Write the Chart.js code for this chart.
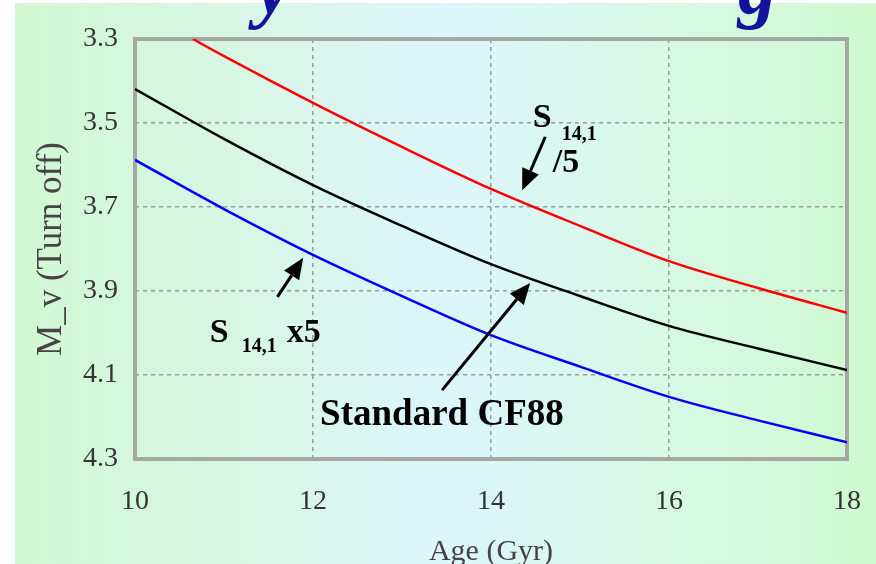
<!DOCTYPE html>
<html>
<head>
<meta charset="utf-8">
<script src="https://cdn.jsdelivr.net/npm/chart.js@4.4.0/dist/chart.umd.min.js"></script>
<style>
  html, body { margin: 0; padding: 0; background: #fff; }
  #bg { position: absolute; left: 15px; top: 3px; width: 861px; height: 561px;
        background: linear-gradient(to right, #d2f8d2 0%, #d8f6e4 25%, #dcf6fb 50%, #d8f8e6 75%, #cff9cf 100%); }
  #box { position: absolute; left: 0; top: 0; width: 876px; height: 564px; }
</style>
</head>
<body>
<div id="bg"></div>
<div id="box"><canvas id="chart1" width="876" height="564"></canvas></div>
<script>
// age axis (Gyr) and turn-off magnitudes
const ages = [10, 11, 12, 13, 14, 15, 16, 17, 18];
const mv_standard = [3.419, 3.538, 3.648, 3.745, 3.836, 3.912, 3.983, 4.037, 4.088];
const mv_s141_x5 = [3.588, 3.705, 3.814, 3.912, 4.005, 4.080, 4.152, 4.208, 4.260];
const ages_div5 = [10.65, 11, 12, 13, 14, 15, 16, 17, 18];
const mv_s141_div5 = [3.300, 3.341, 3.452, 3.557, 3.657, 3.745, 3.829, 3.893, 3.952];

const x_ticks = [10, 12, 14, 16, 18];
const y_ticks = [3.3, 3.5, 3.7, 3.9, 4.1, 4.3];

// labels on the plot, anchored in data units (age, M_v)
const note_div5 = { x: 14.47, y: 3.51, tail: [14.61, 3.533], tip: [14.35, 3.66] };
const note_x5 = { x: 10.84, y: 4.021, tail: [11.60, 3.914], tip: [11.89, 3.821] };
const note_std = { x: 12.08, y: 4.219, tail: [13.45, 4.136], tip: [14.44, 3.881] };

const toXY = (xs, ys) => xs.map((x, i) => ({ x: x, y: ys[i] }));

const SERIF = '"Liberation Serif", "DejaVu Serif", serif';

function arrow(ctx, x1, y1, x2, y2) {
  const a = Math.atan2(y2 - y1, x2 - x1);
  const L = 21, W = 9;
  const c = Math.cos(a), s = Math.sin(a);
  ctx.beginPath();
  ctx.moveTo(x1, y1);
  ctx.lineTo(x2 - L * c, y2 - L * s);
  ctx.lineWidth = 3;
  ctx.stroke();
  ctx.beginPath();
  ctx.moveTo(x2, y2);
  ctx.lineTo(x2 - L * c + W * s, y2 - L * s - W * c);
  ctx.lineTo(x2 - L * c - W * s, y2 - L * s + W * c);
  ctx.closePath();
  ctx.fill();
}

const notesPlugin = {
  id: 'notes',
  beforeDatasetsDraw(chart) {
    const { ctx, chartArea: a } = chart;
    ctx.save();
    ctx.strokeStyle = '#a3a8a3';
    ctx.lineWidth = 4;
    ctx.strokeRect(a.left, a.top, a.right - a.left, a.bottom - a.top);
    ctx.restore();
  },
  afterDatasetsDraw(chart) {
    const { ctx } = chart;
    const xs = chart.scales.x, ys = chart.scales.y;
    const px = v => xs.getPixelForValue(v), py = v => ys.getPixelForValue(v);
    ctx.save();
    ctx.fillStyle = '#000';
    ctx.strokeStyle = '#000';
    ctx.textBaseline = 'alphabetic';
    ctx.textAlign = 'left';

    // S 14,1 /5
    let x = px(note_div5.x), y = py(note_div5.y);
    ctx.font = 'bold 34px ' + SERIF;
    ctx.fillText('S', x, y);
    ctx.fillText('/5', x + 20, y + 45);
    ctx.font = 'bold 20px ' + SERIF;
    ctx.fillText('14,1', x + 29, y + 13);
    arrow(ctx, px(note_div5.tail[0]), py(note_div5.tail[1]), px(note_div5.tip[0]), py(note_div5.tip[1]));

    // S 14,1 x5
    x = px(note_x5.x); y = py(note_x5.y);
    ctx.font = 'bold 34px ' + SERIF;
    ctx.fillText('S', x, y);
    ctx.fillText('x5', x + 77, y);
    ctx.font = 'bold 20px ' + SERIF;
    ctx.fillText('14,1', x + 32, y + 10);
    arrow(ctx, px(note_x5.tail[0]), py(note_x5.tail[1]), px(note_x5.tip[0]), py(note_x5.tip[1]));

    // Standard CF88
    x = px(note_std.x); y = py(note_std.y);
    ctx.font = 'bold 37px ' + SERIF;
    ctx.fillText('Standard CF88', x, y);
    arrow(ctx, px(note_std.tail[0]), py(note_std.tail[1]), px(note_std.tip[0]), py(note_std.tip[1]));
    ctx.restore();
  },
  afterDraw(chart) {
    // slide heading, only its descenders are inside the frame
    const ctx = chart.ctx;
    ctx.save();
    ctx.fillStyle = '#12129c';
    ctx.font = 'italic bold 78px ' + SERIF;
    ctx.textBaseline = 'alphabetic';
    ctx.fillText('y', 256, 13);
    ctx.fillText('g', 738, 13);
    ctx.restore();
  }
};

const gridColor = (lo, hi) => c => (c.tick && (c.tick.value === lo || c.tick.value === hi)) ? 'rgba(0,0,0,0)' : '#9a9a9a';

const ctx = document.getElementById('chart1').getContext('2d');
const myChart = new Chart(ctx, {
  type: 'line',
  data: {
    datasets: [
      { label: 'S14,1 /5', data: toXY(ages_div5, mv_s141_div5), borderColor: '#ff0000' },
      { label: 'Standard CF88', data: toXY(ages, mv_standard), borderColor: '#000000' },
      { label: 'S14,1 x5', data: toXY(ages, mv_s141_x5), borderColor: '#0000ff' }
    ]
  },
  options: {
    responsive: false,
    animation: false,
    parsing: false,
    elements: {
      line: { borderWidth: 2.5, cubicInterpolationMode: 'monotone' },
      point: { radius: 0 }
    },
    layout: { padding: { left: 0, top: 39, right: 29, bottom: 0 } },
    plugins: { legend: { display: false }, tooltip: { enabled: false } },
    scales: {
      x: {
        type: 'linear',
        min: 10, max: 18,
        afterBuildTicks: s => { s.ticks = x_ticks.map(v => ({ value: v })); },
        afterFit: s => { s.height = 105; s.paddingLeft = 0; s.paddingRight = 0; },
        border: { display: false, dash: [4, 4] },
        grid: { drawTicks: false, color: gridColor(10, 18), lineWidth: 1.5 },
        ticks: { padding: 26, color: '#333', font: { family: SERIF, size: 28 } },
        title: { display: true, text: 'Age (Gyr)', color: '#444', font: { family: SERIF, size: 30 }, padding: { top: 0, bottom: -6 } }
      },
      y: {
        type: 'linear',
        reverse: true,
        min: 3.3, max: 4.3,
        afterBuildTicks: s => { s.ticks = y_ticks.map(v => ({ value: v })); },
        afterFit: s => { s.width = 135; s.paddingTop = 0; s.paddingBottom = 0; },
        border: { display: false, dash: [4, 4] },
        grid: { drawTicks: false, color: gridColor(3.3, 4.3), lineWidth: 1.5 },
        ticks: { padding: 17, color: '#333', font: { family: SERIF, size: 28 }, callback: v => Number(v).toFixed(1) },
        title: { display: true, text: 'M_v (Turn off)', color: '#444', font: { family: SERIF, size: 35 }, padding: { top: 31, bottom: 0 } }
      }
    }
  },
  plugins: [notesPlugin]
});
</script>
</body>
</html>
